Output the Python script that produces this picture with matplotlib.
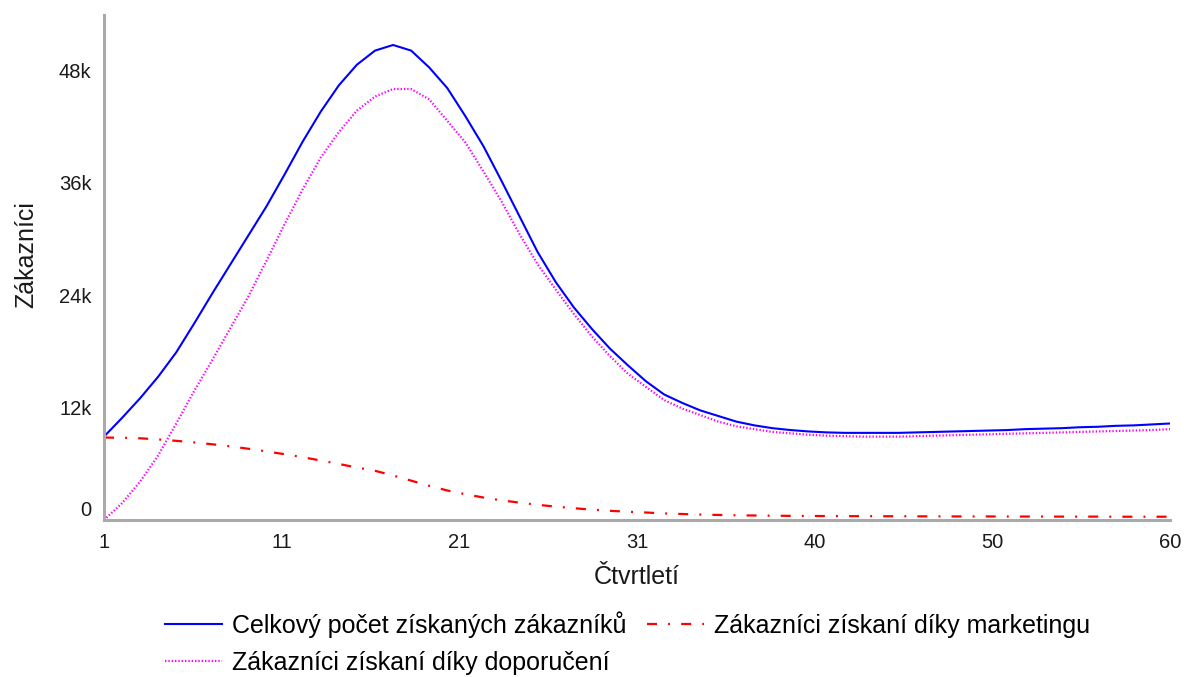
import matplotlib
matplotlib.use("Agg")
import matplotlib.pyplot as plt
import numpy as np

# values in thousands of customers per quarter
quarters = list(range(1, 61))
total = [8.9, 10.9, 13.0, 15.3, 17.9, 21.0, 24.2, 27.3, 30.4, 33.5,
         36.9, 40.4, 43.6, 46.4, 48.6, 50.1, 50.7, 50.1, 48.3, 46.1,
         43.1, 39.9, 36.2, 32.4, 28.6, 25.4, 22.7, 20.4, 18.3, 16.5,
         14.8, 13.4, 12.5, 11.7, 11.1, 10.5, 10.1, 9.8, 9.6, 9.45,
         9.35, 9.3, 9.3, 9.3, 9.3, 9.35, 9.4, 9.45, 9.5, 9.55,
         9.6, 9.7, 9.75, 9.8, 9.9, 9.95, 10.05, 10.1, 10.2, 10.3]
marketing = [8.8, 8.78, 8.72, 8.6, 8.45, 8.28, 8.08, 7.86, 7.6, 7.32,
             7.02, 6.7, 6.35, 5.98, 5.6, 5.25, 4.75, 4.2, 3.65, 3.15,
             2.75, 2.4, 2.1, 1.85, 1.62, 1.43, 1.26, 1.1, 0.98, 0.88,
             0.8, 0.7, 0.64, 0.58, 0.54, 0.5, 0.48, 0.46, 0.44, 0.43,
             0.42, 0.41, 0.41, 0.4, 0.4, 0.39, 0.39, 0.38, 0.38, 0.38,
             0.37, 0.37, 0.37, 0.36, 0.36, 0.36, 0.35, 0.35, 0.35, 0.35]
referral = [0.0, 1.8, 4.1, 6.9, 10.3, 13.8, 17.1, 20.5, 23.9, 27.7,
            31.6, 35.3, 38.7, 41.4, 43.7, 45.2, 46.0, 46.0, 44.9, 42.6,
            40.3, 37.2, 34.0, 30.5, 27.3, 24.6, 22.0, 19.6, 17.5, 15.6,
            14.2, 12.8, 11.9, 11.2, 10.5, 10.0, 9.7, 9.4, 9.25, 9.1,
            9.0, 8.95, 8.9, 8.9, 8.9, 8.95, 9.0, 9.05, 9.1, 9.15,
            9.2, 9.25, 9.3, 9.35, 9.4, 9.45, 9.5, 9.55, 9.6, 9.7]

x_tick_labels = ["1", "11", "21", "31", "40", "50", "60"]
y_ticks = [0, 12, 24, 36, 48]
y_tick_labels = ["0", "12k", "24k", "36k", "48k"]

labels = ["Celkový počet získaných zákazníků",
          "Zákazníci získaní díky marketingu",
          "Zákazníci získaní díky doporučení"]

plt.rcParams['font.family'] = ['Liberation Sans', 'DejaVu Sans']
plt.rcParams['lines.scale_dashes'] = False

W, H = 1184, 677
fig = plt.figure(figsize=(W / 100, H / 100), dpi=100)
ax = fig.add_axes([104 / W, 1 - 520 / H, (1170 - 104) / W, (520 - 15) / H])

h1, = ax.plot(quarters, total, color='#0000ff', lw=1.5, label=labels[0])
h2, = ax.plot(quarters, marketing, color='#ff0000', lw=1.6,
              dashes=(7.2, 8, 1.4, 8), label=labels[1])
h3, = ax.plot(quarters, referral, color='#ff00ff', lw=1.6,
              dashes=(1.0, 1.4), label=labels[2])

ax.set_xlim(1, 60)
ax.set_ylim(0, 53.9)
ax.set_xticks(np.linspace(1, 60, 7))
ax.set_xticklabels(x_tick_labels)
ax.set_yticks(y_ticks)
ax.set_yticklabels(y_tick_labels)

for s in ['top', 'right']:
    ax.spines[s].set_visible(False)
for s in ['left', 'bottom']:
    ax.spines[s].set_color('#aaaaaa')
    ax.spines[s].set_linewidth(2.2)

ax.tick_params(length=0, labelsize=14.5, pad=9, colors='#1a1a1a')
ax.get_yticklabels()[0].set_va('bottom')

ax.set_xlabel('Čtvrtletí', fontsize=18, color='#1a1a1a')
ax.xaxis.set_label_coords(0.5, -0.089)
ax.set_ylabel('Zákazníci', fontsize=18, color='#1a1a1a')
ax.yaxis.set_label_coords(-0.062, 0.525)

fig.legend(handles=[h1, h3, h2], ncol=2, loc='upper center',
           bbox_to_anchor=(0.53, 1 - 611 / H), frameon=False, fontsize=18,
           handlelength=2.3, handletextpad=0.4, columnspacing=0.8,
           labelspacing=0.53, borderaxespad=0, borderpad=0)

fig.savefig('out.png', dpi=100)
